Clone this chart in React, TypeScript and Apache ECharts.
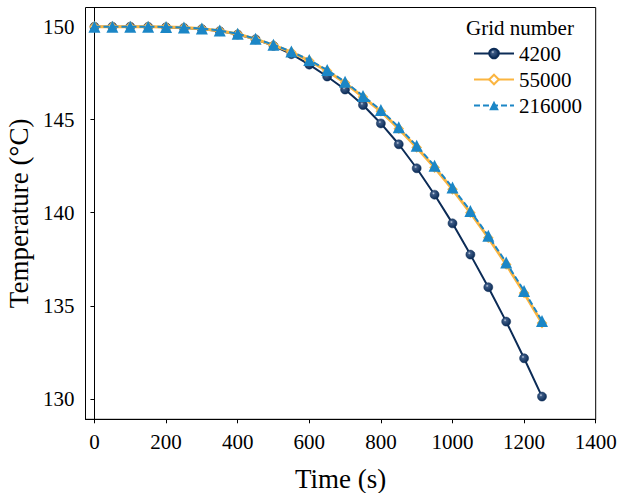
import React, { useEffect, useRef } from "react";
import * as echarts from "echarts";

const timeS = [0, 50, 100, 150, 200, 250, 300, 350, 400, 450, 500, 550, 600, 650, 700, 750, 800, 850, 900, 950, 1000, 1050, 1100, 1150, 1200, 1250];
const grid4200 = [150.0, 150.0, 150.0, 149.99, 149.97, 149.93, 149.87, 149.76, 149.58, 149.32, 148.97, 148.52, 147.96, 147.32, 146.62, 145.79, 144.8, 143.68, 142.39, 140.97, 139.43, 137.75, 136.0, 134.15, 132.18, 130.12];
const grid55000 = [150.0, 150.0, 150.0, 150.0, 149.98, 149.95, 149.89, 149.78, 149.61, 149.33, 149.01, 148.63, 148.17, 147.62, 146.98, 146.22, 145.45, 144.52, 143.51, 142.43, 141.26, 140.0, 138.66, 137.22, 135.69, 134.07];
const grid216000 = [150.0, 150.0, 150.0, 150.0, 149.98, 149.95, 149.9, 149.79, 149.62, 149.35, 149.03, 148.66, 148.21, 147.67, 147.04, 146.28, 145.52, 144.6, 143.6, 142.52, 141.36, 140.1, 138.76, 137.33, 135.8, 134.18];
const seriesNames = ["4200", "55000", "216000"];
const xTicks = [0, 200, 400, 600, 800, 1000, 1200, 1400];
const yTicks = [130, 135, 140, 145, 150];

const FONT = "Liberation Serif";
const NAVY = "#0c2c57";
const ORANGE = "#fbb540";
const BLUE = "#1b86c6";

export default function App() {
  const ref = useRef<HTMLDivElement>(null);
  useEffect(() => {
    if (!ref.current) return;
    const chart = echarts.init(ref.current, null, { renderer: "svg" });
    const pair = (ys: number[]) => timeS.map((t, i) => [t, ys[i]]);
    chart.setOption({
      animation: false,
      backgroundColor: "#ffffff",
      textStyle: { fontFamily: FONT, color: "#000" },
      grid: {
        left: 85.5,
        right: 22.3,
        top: 7.5,
        bottom: 73.7,
        containLabel: false,
        outerBoundsMode: "none",
        show: true,
        borderColor: "#000",
        borderWidth: 1,
        backgroundColor: "transparent",
      },
      xAxis: {
        type: "value",
        min: -25,
        max: 1400,
        name: "Time (s)",
        nameLocation: "middle",
        nameGap: 46,
        nameTextStyle: { fontSize: 27, fontFamily: FONT, color: "#000" },
        axisLine: { show: true, lineStyle: { color: "#000", width: 1 } },
        axisTick: { show: true, inside: false, length: 4, customValues: xTicks, lineStyle: { color: "#000", width: 1 } },
        axisLabel: { customValues: xTicks, formatter: (v: number) => String(v), fontSize: 21, fontFamily: FONT, color: "#000", margin: 12 },
        splitLine: { show: false },
      },
      yAxis: {
        type: "value",
        min: 128.9,
        max: 151.03,
        name: "Temperature (°C)",
        nameLocation: "middle",
        nameRotate: 90,
        nameGap: 48,
        nameTextStyle: { fontSize: 27, fontFamily: FONT, color: "#000" },
        axisLine: { show: true, lineStyle: { color: "#000", width: 1 } },
        axisTick: { show: true, inside: false, length: 4, customValues: yTicks, lineStyle: { color: "#000", width: 1 } },
        axisLabel: { customValues: yTicks, formatter: (v: number) => String(v), fontSize: 21, fontFamily: FONT, color: "#000", margin: 11 },
        splitLine: { show: false },
      },
      legend: {
        orient: "vertical",
        left: 468,
        top: 38,
        itemWidth: 40,
        itemHeight: 12,
        itemGap: 5,
        textStyle: { fontSize: 21, fontFamily: FONT, color: "#000" },
        data: seriesNames,
      },
      graphic: [
        {
          type: "text",
          left: 466,
          top: 17,
          style: { text: "Grid number", font: `21px ${FONT}`, fill: "#000" },
        },
      ],
      series: [
        {
          name: seriesNames[0],
          type: "line",
          data: pair(grid4200),
          symbol: "circle",
          symbolSize: 9,
          lineStyle: { color: NAVY, width: 2 },
          itemStyle: {
            color: {
              type: "radial",
              x: 0.38,
              y: 0.35,
              r: 0.65,
              colorStops: [
                { offset: 0, color: "#c9d4e4" },
                { offset: 0.25, color: "#3c5a85" },
                { offset: 1, color: NAVY },
              ],
            },
            borderColor: NAVY,
            borderWidth: 0.5,
          },
          z: 2,
        },
        {
          name: seriesNames[1],
          type: "line",
          data: pair(grid55000),
          symbol: "diamond",
          symbolSize: 9,
          lineStyle: { color: ORANGE, width: 3 },
          itemStyle: { color: "#ffffff", borderColor: ORANGE, borderWidth: 1.2 },
          z: 3,
        },
        {
          name: seriesNames[2],
          type: "line",
          data: pair(grid216000),
          symbol: "triangle",
          symbolSize: 12,
          lineStyle: { color: BLUE, width: 2, type: [6, 3] },
          itemStyle: { color: BLUE, borderColor: BLUE, borderWidth: 0 },
          z: 4,
        },
      ],
    });
    return () => chart.dispose();
  }, []);
  return <div ref={ref} style={{ position: "absolute", left: 0, top: 0, width: 618, height: 493 }} />;
}
